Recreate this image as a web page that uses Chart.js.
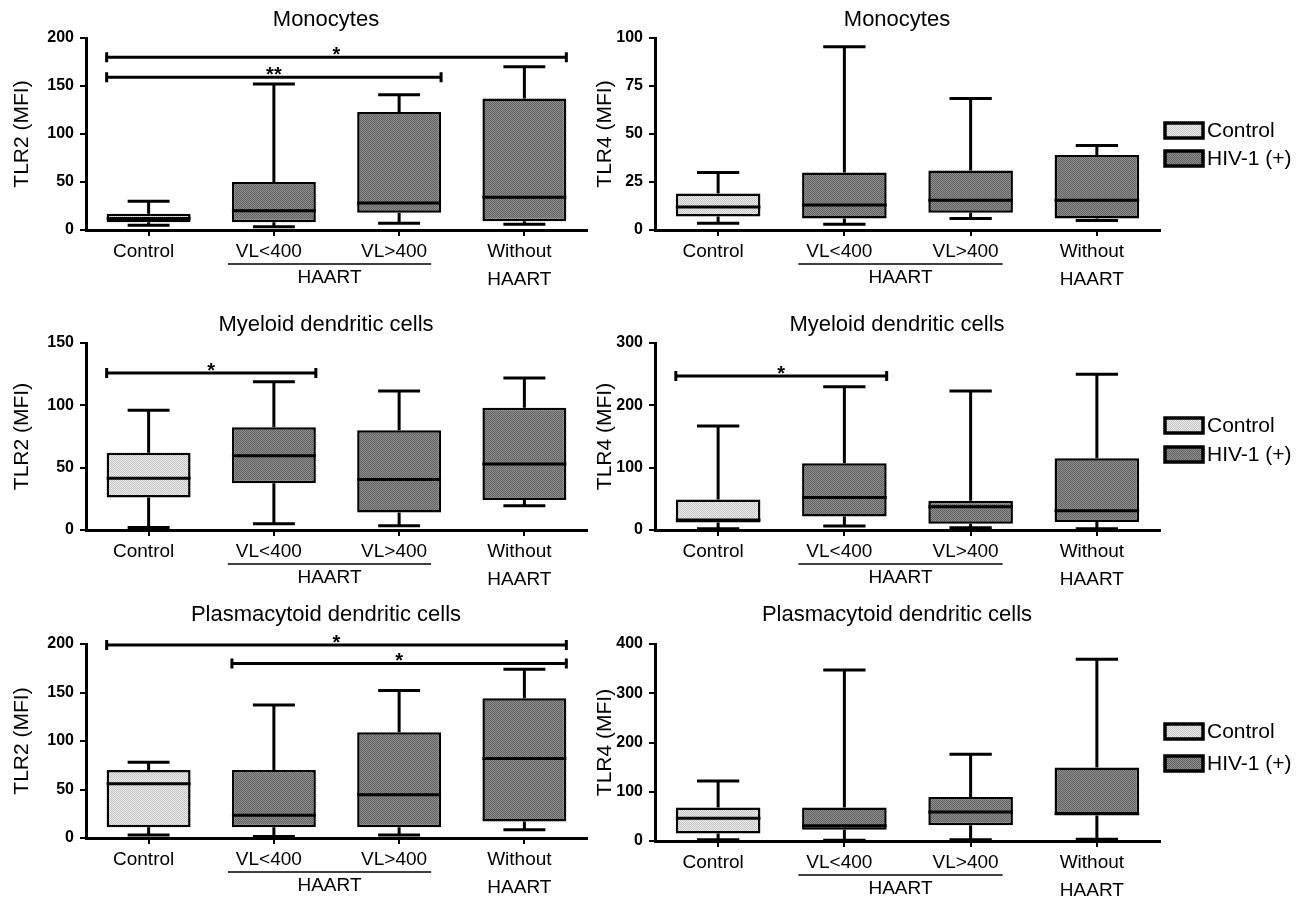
<!DOCTYPE html>
<html>
<head>
<meta charset="utf-8">
<title>TLR2 / TLR4 expression</title>
<script src="https://cdn.jsdelivr.net/npm/chart.js@4.4.1/dist/chart.umd.min.js"></script>
<style>
  html, body { margin: 0; background: #fff; }
  #fig { position: relative; width: 1307px; height: 898px; overflow: hidden; background: #fff; }
  #fig canvas { position: absolute; }
</style>
</head>
<body>
<div id="fig">
  <canvas id="p1" width="592" height="300" style="left:0;top:0"></canvas>
  <canvas id="p2" width="715" height="300" style="left:592px;top:0"></canvas>
  <canvas id="p3" width="592" height="298" style="left:0;top:300px"></canvas>
  <canvas id="p4" width="715" height="298" style="left:592px;top:300px"></canvas>
  <canvas id="p5" width="592" height="300" style="left:0;top:598px"></canvas>
  <canvas id="p6" width="715" height="300" style="left:592px;top:598px"></canvas>
</div>
<script>
// groups on the x axis
const groups = ['Control', 'VL<400', 'VL>400', ['Without', 'HAART']];
const legendNames = ['Control', 'HIV-1 (+)'];

// box plots: [min, q1, median, q3, max] for each group
const monoTlr2 = [[5, 8, 12, 17, 30], [3.5, 8, 20, 50, 152], [7, 18, 28, 123, 141], [6, 9, 34, 137, 170]];
const monoTlr4 = [[3.5, 7, 12, 19, 30], [3, 6, 13, 30, 95.5], [6, 9, 15.5, 31, 68.5], [5, 6, 15.5, 39, 44]];
const mdcTlr2 = [[2, 26, 41.5, 62, 96], [5, 37.5, 59.5, 82.5, 119], [3.5, 14, 40.5, 80, 111.5], [19.5, 24, 53, 98, 122]];
const mdcTlr4 = [[2, 12, 16, 49, 167], [6.5, 21.5, 52, 107, 230], [3.5, 10, 37.5, 47, 223], [2, 13, 31, 115, 250]];
const pdcTlr2 = [[3, 11, 56, 70, 78], [1.5, 11, 23.5, 70, 137], [3, 11, 44.5, 109, 152], [8.5, 17, 82, 144, 174]];
const pdcTlr4 = [[2.5, 15, 46, 68, 122], [1.5, 23, 31, 68, 347], [2.5, 32, 59, 89.5, 176], [3.5, 52, 56, 149, 369]];

// significance brackets: [from group, to group, height, mark]
const monoTlr2Sig = [[0, 3, 180, '*'], [0, 2, 159, '**']];
const mdcTlr2Sig = [[0, 1, 126, '*']];
const mdcTlr4Sig = [[0, 1, 247, '*']];
const pdcTlr2Sig = [[0, 3, 199, '*'], [1, 3, 180, '*']];

const sans = "'Liberation Sans', Arial, sans-serif";
Chart.defaults.font.family = sans;
Chart.defaults.color = '#000';

// dotted grey fills like the original boxes
function dotFill(base, dot) {
    const c = document.createElement('canvas');
    c.width = 2; c.height = 2;
    const g = c.getContext('2d');
    g.fillStyle = base; g.fillRect(0, 0, 2, 2);
    g.fillStyle = dot; g.fillRect(0, 0, 1, 1); g.fillRect(1, 1, 1, 1);
    return g.createPattern(c, 'repeat');
}
const lightFill = dotFill('#ececec', '#c4c4c4');
const darkFill = dotFill('#8e8e8e', '#626262');
const groupFills = [lightFill, darkFill, darkFill, darkFill];
const legendFills = [lightFill, darkFill];

// whiskers, medians, brackets, HAART label, titles and legend
const boxPlot = {
    id: 'boxPlot',
    afterDatasetsDraw(chart, args, o) {
        const ctx = chart.ctx;
        const y = chart.scales.y;
        const bars = chart.getDatasetMeta(0).data;
        ctx.save();
        ctx.strokeStyle = '#000';
        ctx.lineWidth = 3;
        o.stats.forEach((s, i) => {
            const b = bars[i];
            const half = b.width / 2;
            const cap = half / 2;
            const p = s.map(v => y.getPixelForValue(v));
            ctx.beginPath();
            ctx.moveTo(b.x, p[3]); ctx.lineTo(b.x, p[4]);
            ctx.moveTo(b.x - cap, p[4]); ctx.lineTo(b.x + cap, p[4]);
            ctx.moveTo(b.x, p[1]); ctx.lineTo(b.x, p[0]);
            ctx.moveTo(b.x - cap, p[0]); ctx.lineTo(b.x + cap, p[0]);
            ctx.moveTo(b.x - half, p[2]); ctx.lineTo(b.x + half, p[2]);
            ctx.stroke();
        });

        ctx.fillStyle = '#000';
        ctx.font = 'bold 20px ' + sans;
        ctx.textAlign = 'center';
        ctx.textBaseline = 'alphabetic';
        o.sig.forEach(([from, to, val, mark]) => {
            const x1 = bars[from].x - bars[from].width / 2;
            const x2 = bars[to].x + bars[to].width / 2;
            const yy = y.getPixelForValue(val);
            ctx.beginPath();
            ctx.moveTo(x1, yy); ctx.lineTo(x2, yy);
            ctx.moveTo(x1, yy - 5); ctx.lineTo(x1, yy + 5);
            ctx.moveTo(x2, yy - 5); ctx.lineTo(x2, yy + 5);
            ctx.stroke();
            ctx.fillText(mark, (x1 + x2) / 2, yy + 4);
        });
        ctx.restore();
    },
    afterDraw(chart, args, o) {
        const ctx = chart.ctx;
        const x = chart.scales.x;
        const base = chart.chartArea.bottom;
        const a = x.getPixelForValue(1) - 46;
        const b = x.getPixelForValue(2) + 32;
        ctx.save();
        ctx.strokeStyle = '#000';
        ctx.lineWidth = 1.5;
        ctx.beginPath();
        ctx.moveTo(a, base + 34); ctx.lineTo(b, base + 34);
        ctx.stroke();
        ctx.fillStyle = '#000';
        ctx.textAlign = 'center';
        ctx.textBaseline = 'middle';
        ctx.font = '19px ' + sans;
        ctx.fillText('HAART', (a + b) / 2, base + 48);

        ctx.font = '22px ' + sans;
        ctx.fillText(o.title, o.titleX, o.titleY);

        if (o.legendY) {
            legendNames.forEach((name, k) => {
                const cy = o.legendY[k];
                ctx.fillStyle = legendFills[k];
                ctx.fillRect(573, cy - 7, 38, 15);
                ctx.lineWidth = 3.5;
                ctx.strokeRect(573, cy - 7, 38, 15);
                ctx.fillStyle = '#000';
                ctx.textAlign = 'left';
                ctx.font = '21px ' + sans;
                ctx.fillText(name, 615, cy + 1);
            });
        }
        ctx.restore();
    }
};

// area: [left, right, top, bottom] of the plot inside its canvas
const panels = [
    { id: 'p1', stats: monoTlr2, sig: monoTlr2Sig, yMax: 200, yStep: 50, yTitle: 'TLR2 (MFI)', title: 'Monocytes', area: [86, 587, 38, 230], titleX: 326, titleY: 20, legendY: null },
    { id: 'p2', stats: monoTlr4, sig: [], yMax: 100, yStep: 25, yTitle: 'TLR4 (MFI)', title: 'Monocytes', area: [63, 568, 38, 230], titleX: 305, titleY: 20, legendY: [130, 158] },
    { id: 'p3', stats: mdcTlr2, sig: mdcTlr2Sig, yMax: 150, yStep: 50, yTitle: 'TLR2 (MFI)', title: 'Myeloid dendritic cells', area: [86, 587, 43, 230], titleX: 326, titleY: 25, legendY: null },
    { id: 'p4', stats: mdcTlr4, sig: mdcTlr4Sig, yMax: 300, yStep: 100, yTitle: 'TLR4 (MFI)', title: 'Myeloid dendritic cells', area: [63, 568, 43, 230], titleX: 305, titleY: 25, legendY: [125, 154] },
    { id: 'p5', stats: pdcTlr2, sig: pdcTlr2Sig, yMax: 200, yStep: 50, yTitle: 'TLR2 (MFI)', title: 'Plasmacytoid dendritic cells', area: [86, 587, 46, 240], titleX: 326, titleY: 17, legendY: null },
    { id: 'p6', stats: pdcTlr4, sig: [], yMax: 400, yStep: 100, yTitle: 'TLR4 (MFI)', title: 'Plasmacytoid dendritic cells', area: [63, 568, 46, 243], titleX: 305, titleY: 17, legendY: [133, 165] }
];

function makePanel(p) {
    const canvas = document.getElementById(p.id);
    const W = canvas.width, H = canvas.height;
    const [left, right, top, bottom] = p.area;
    const isLeft = !p.legendY;
    return new Chart(canvas, {
        type: 'bar',
        data: {
            labels: groups,
            datasets: [{
                data: p.stats.map(s => [s[1], s[3]]),
                backgroundColor: groupFills,
                borderColor: '#000',
                borderWidth: 2.5,
                borderSkipped: false,
                barPercentage: 0.67,
                categoryPercentage: 1
            }]
        },
        options: {
            responsive: false,
            animation: false,
            devicePixelRatio: 1,
            events: [],
            layout: { padding: { top: top, right: W - right, left: 0, bottom: 0 } },
            plugins: {
                legend: { display: false },
                tooltip: { enabled: false },
                boxPlot: p
            },
            scales: {
                x: {
                    grid: { offset: false, drawOnChartArea: false, tickLength: 6, color: '#000', lineWidth: 2 },
                    border: { color: '#000', width: 3 },
                    ticks: { font: { size: 19, lineHeight: 1.45 }, padding: 2, labelOffset: -5, maxRotation: 0, autoSkip: false },
                    afterFit: s => { s.height = H - bottom; }
                },
                y: {
                    min: 0,
                    max: p.yMax,
                    grid: { drawOnChartArea: false, tickLength: 6, color: '#000', lineWidth: 2 },
                    border: { color: '#000', width: 3 },
                    ticks: { stepSize: p.yStep, padding: 6, font: { weight: 'bold', size: 16 } },
                    title: { display: true, text: p.yTitle, font: { size: 21 }, padding: { top: isLeft ? 10 : 1, bottom: 0 } },
                    afterFit: s => { s.width = left; }
                }
            }
        },
        plugins: [boxPlot]
    });
}

panels.forEach(makePanel);
</script>
</body>
</html>
